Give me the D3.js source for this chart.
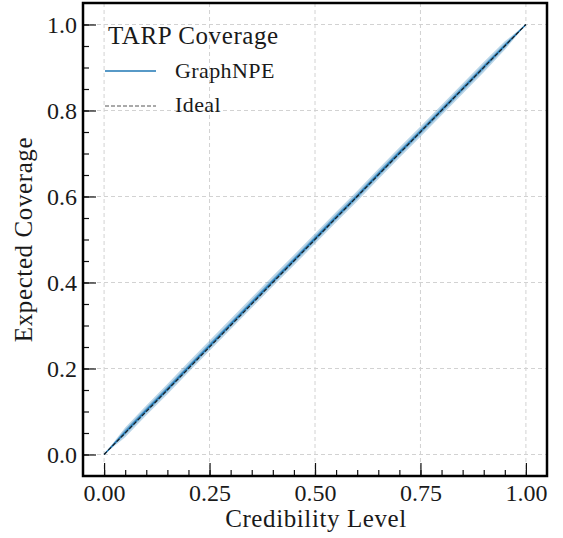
<!DOCTYPE html>
<html>
<head>
<meta charset="utf-8">
<script src="https://cdn.jsdelivr.net/npm/d3@7"></script>
<style>
body{margin:0;background:#fff;}
</style>
</head>
<body>
<svg id="chart" width="563" height="538"></svg>
<script>
// credibility levels and TARP coverage
var credibility = [0,0.05,0.1,0.15,0.2,0.25,0.3,0.35,0.4,0.45,0.5,0.55,0.6,0.65,0.7,0.75,0.8,0.85,0.9,0.95,1];
var coverage    = [0,0.052,0.103,0.152,0.203,0.253,0.303,0.353,0.403,0.452,0.502,0.552,0.601,0.652,0.702,0.751,0.801,0.851,0.901,0.951,1];
var band2Lo     = [0,0.040,0.091,0.140,0.191,0.241,0.291,0.341,0.391,0.440,0.490,0.540,0.589,0.640,0.690,0.739,0.789,0.839,0.889,0.941,1];
var band2Hi     = [0,0.063,0.114,0.164,0.215,0.265,0.315,0.365,0.415,0.464,0.514,0.564,0.613,0.664,0.714,0.763,0.813,0.863,0.913,0.961,1];
var band1Lo     = [0,0.046,0.097,0.146,0.197,0.247,0.297,0.347,0.397,0.446,0.496,0.546,0.595,0.646,0.696,0.745,0.795,0.845,0.895,0.946,1];
var band1Hi     = [0,0.058,0.109,0.158,0.209,0.259,0.309,0.359,0.409,0.458,0.508,0.558,0.607,0.658,0.708,0.757,0.807,0.857,0.907,0.956,1];
var xTicks = [0,0.25,0.5,0.75,1];
var xTickLabels = ["0.00","0.25","0.50","0.75","1.00"];
var yTicks = [0,0.2,0.4,0.6,0.8,1];
var yTickLabels = ["0.0","0.2","0.4","0.6","0.8","1.0"];
var minorTicks = d3.range(0,21).map(function(i){return i*0.05;});

var FONT = "'Liberation Serif', 'DejaVu Serif', serif";
var svg = d3.select("#chart");
var L = 83, R = 547, T = 3, B = 476;
var x = d3.scaleLinear().domain([-0.05,1.05]).range([L,R]);
var y = d3.scaleLinear().domain([-0.05,1.05]).range([B,T]);

// grid
var grid = svg.append("g");
grid.selectAll(".gx").data(xTicks).enter().append("line")
	.attr("x1",function(d){return x(d);}).attr("x2",function(d){return x(d);})
	.attr("y1",T).attr("y2",B)
	.attr("stroke","#d2d2d2").attr("stroke-width",1).attr("stroke-dasharray","4,3");
grid.selectAll(".gy").data(yTicks).enter().append("line")
	.attr("y1",function(d){return y(d);}).attr("y2",function(d){return y(d);})
	.attr("x1",L).attr("x2",R)
	.attr("stroke","#d2d2d2").attr("stroke-width",1).attr("stroke-dasharray","4,3");

// bands
var idx = d3.range(credibility.length);
function area(lo,hi){
	return d3.area()
		.x(function(i){return x(credibility[i]);})
		.y0(function(i){return y(lo[i]);})
		.y1(function(i){return y(hi[i]);})(idx);
}
svg.append("path").attr("d",area(band2Lo,band2Hi)).attr("fill","#1f77b4").attr("fill-opacity",0.3);
svg.append("path").attr("d",area(band1Lo,band1Hi)).attr("fill","#1f77b4").attr("fill-opacity",0.45);

var line = d3.line().x(function(i){return x(credibility[i]);}).y(function(i){return y(coverage[i]);});
svg.append("path").attr("d",line(idx)).attr("fill","none").attr("stroke","#1f77b4").attr("stroke-width",1.5);

var ideal = d3.line().x(function(d){return x(d);}).y(function(d){return y(d);});
svg.append("path").attr("d",ideal([0,1])).attr("fill","none")
	.attr("stroke","#1a1a1a").attr("stroke-width",1.1).attr("stroke-dasharray","4,2");

// axes with inward ticks
var xAxis = svg.append("g").attr("transform","translate(0,"+B+")");
xAxis.call(d3.axisBottom(x).tickValues(minorTicks).tickSize(-6).tickFormat(""));
xAxis.append("g").call(d3.axisBottom(x).tickValues(xTicks).tickSize(-13).tickPadding(8)
	.tickFormat(function(d,i){return xTickLabels[i];}));
var yAxis = svg.append("g").attr("transform","translate("+L+",0)");
yAxis.call(d3.axisLeft(y).tickValues(minorTicks).tickSize(-6).tickFormat(""));
yAxis.append("g").call(d3.axisLeft(y).tickValues(yTicks).tickSize(-13).tickPadding(6)
	.tickFormat(function(d,i){return yTickLabels[i];}));
svg.selectAll(".domain").remove();
svg.selectAll(".tick line").attr("stroke","#111").attr("stroke-width",1.2);
svg.selectAll(".tick text").style("font-size","24px").style("font-family",FONT).attr("fill","#1a1a1a");

// frame
svg.append("rect").attr("x",L).attr("y",T).attr("width",R-L).attr("height",B-T)
	.attr("fill","none").attr("stroke","#000").attr("stroke-width",2.5);

// labels
svg.append("text").attr("x",(L+R)/2+1).attr("y",527).attr("text-anchor","middle")
	.style("font-family",FONT).style("font-size","25px").style("letter-spacing","0.6px")
	.attr("fill","#1a1a1a").text("Credibility Level");
svg.append("text").attr("transform","translate(32,"+((T+B)/2)+") rotate(-90)")
	.attr("text-anchor","middle").style("font-family",FONT).style("font-size","25px")
	.style("letter-spacing","0.6px").attr("fill","#1a1a1a").text("Expected Coverage");

// legend
var lg = svg.append("g").style("font-family",FONT).attr("fill","#1a1a1a");
lg.append("text").attr("x",108).attr("y",44).style("font-size","25px").style("letter-spacing","0.6px").text("TARP Coverage");
lg.append("line").attr("x1",105).attr("x2",156).attr("y1",71).attr("y2",71)
	.attr("stroke","#1f77b4").attr("stroke-width",1.5);
lg.append("text").attr("x",175).attr("y",78).style("font-size","22px").style("letter-spacing","0.4px").text("GraphNPE");
lg.append("line").attr("x1",105).attr("x2",156).attr("y1",106).attr("y2",106)
	.attr("stroke","#555").attr("stroke-width",1).attr("stroke-dasharray","4,2");
lg.append("text").attr("x",175).attr("y",112).style("font-size","22px").style("letter-spacing","0.4px").text("Ideal");
</script>
</body>
</html>
